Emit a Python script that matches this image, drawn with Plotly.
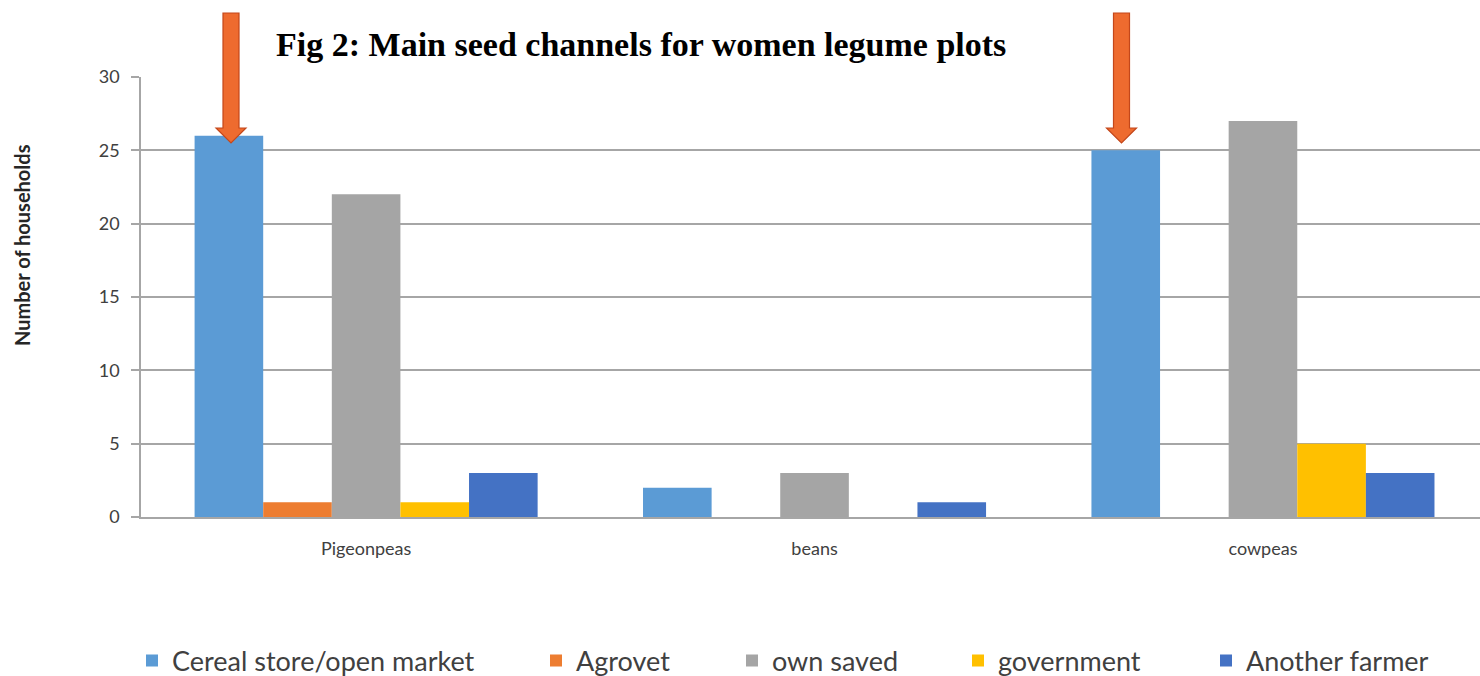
import plotly.graph_objects as go

categories = ["Pigeonpeas", "beans", "cowpeas"]
series_names = ["Cereal store/open market", "Agrovet", "own saved", "government", "Another farmer"]
cereal_store = [26, 2, 25]
agrovet = [1, 0, 0]
own_saved = [22, 3, 27]
government = [1, 0, 5]
another_farmer = [3, 1, 3]
y_ticks = [0, 5, 10, 15, 20, 25, 30]

colors = ["#5B9BD5", "#ED7D31", "#A5A5A5", "#FFC000", "#4472C4"]
series_values = [cereal_store, agrovet, own_saved, government, another_farmer]

W, H = 1480, 676
ml, mr, mt, mb = 141, 0, 77, 159
pw, ph = W - ml - mr, H - mt - mb

def px(x):
    return (x - ml) / pw

def py(y):
    return (H - mb - y) / ph

legend_ids = ["legend", "legend2", "legend3", "legend4", "legend5"]
legend_square_left = [146, 550, 746, 972, 1220]

fig = go.Figure()
for name, vals, col, lid in zip(series_names, series_values, colors, legend_ids):
    fig.add_trace(go.Bar(x=categories, y=vals, name=name, legend=lid,
                         marker=dict(color=col, line=dict(width=0))))

legend_layout = {}
for lid, sq in zip(legend_ids, legend_square_left):
    legend_layout[lid] = dict(orientation="h", x=px(sq - 14), xanchor="left", y=py(661), yanchor="middle",
                              font=dict(family="Lato", size=27, color="#404040"),
                              itemwidth=30, bgcolor="rgba(0,0,0,0)")

fig.update_layout(
    width=W, height=H,
    margin=dict(l=ml, r=mr, t=mt, b=mb, autoexpand=False),
    paper_bgcolor="white", plot_bgcolor="white",
    barmode="group", bargap=0.235, bargroupgap=0,
    font=dict(family="Lato", color="#404040"),
    showlegend=True,
    xaxis=dict(showgrid=False, showline=True, linecolor="#A6A6A6", linewidth=1.5,
               ticks="", tickfont=dict(family="Lato", size=18, color="#404040"),
               ticklabelstandoff=15, range=[-0.502, 2.484]),
    yaxis=dict(range=[0, 30], tickvals=y_ticks, showgrid=True, gridcolor="#A6A6A6", gridwidth=1.5,
               showline=True, linecolor="#A6A6A6", linewidth=1.5, zeroline=False,
               ticks="outside", ticklen=8, tickcolor="#A6A6A6", tickwidth=1.5,
               tickfont=dict(family="Lato", size=18, color="#404040"), ticklabelstandoff=8),
    **legend_layout,
)

fig.add_annotation(text="<b>Fig 2: Main seed channels for women legume plots</b>", xref="paper", yref="paper",
                   x=px(641), y=py(45), xanchor="center", yanchor="middle", showarrow=False,
                   font=dict(family="Liberation Serif", size=34, color="black"))
fig.add_annotation(text="<b>Number of households</b>", xref="paper", yref="paper",
                   x=px(22), y=py(245), xanchor="center", yanchor="middle", showarrow=False, textangle=-90,
                   font=dict(family="Lato", size=20, color="#262626"))

# decorative arrows
for cx in [231, 1121.5]:
    fig.add_shape(type="path", xref="paper", yref="paper",
                  path=(f"M {px(cx-8)} {py(13)} L {px(cx+8)} {py(13)} L {px(cx+8)} {py(128)} "
                        f"L {px(cx+15)} {py(128)} L {px(cx)} {py(143)} L {px(cx-15)} {py(128)} "
                        f"L {px(cx-8)} {py(128)} Z"),
                  fillcolor="#EE6B2F", line=dict(color="#C4471A", width=1.2), layer="above")

fig.write_html("out.html")
